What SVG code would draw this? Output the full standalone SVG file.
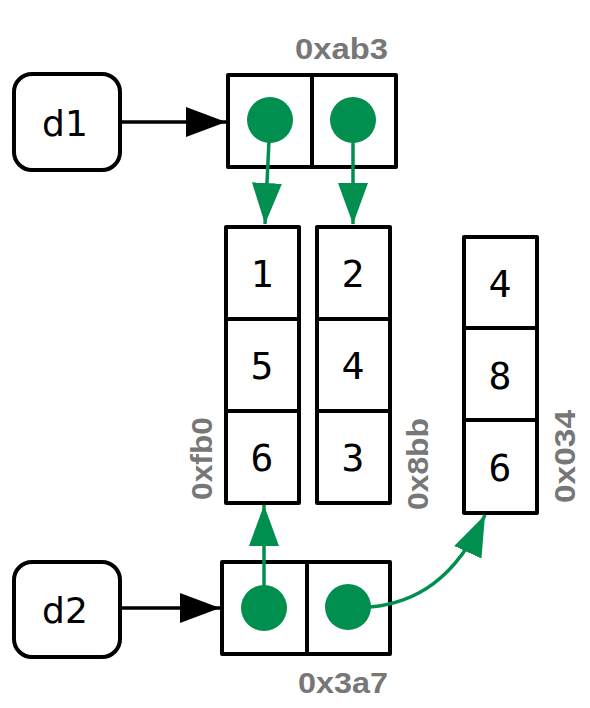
<svg xmlns="http://www.w3.org/2000/svg" width="590" height="708" viewBox="0 0 590 708">
<style>
.box{fill:#fff;stroke:#000;stroke-width:4;stroke-linejoin:round}
.div{stroke:#000;stroke-width:4}
.name{font-family:"DejaVu Sans","Noto Sans",sans-serif;font-size:36px;text-anchor:middle}
.num{font-family:"DejaVu Sans Mono",monospace;font-size:38px;text-anchor:middle}
.addr{font-family:"Liberation Sans",Arial,sans-serif;font-weight:bold;font-size:30px;fill:#777}
.dot{fill:#008f4f}
.ptr{fill:none;stroke:#008f4f;stroke-width:3.5}
.blk{fill:none;stroke:#000;stroke-width:3.5}
</style>
<defs>
<marker id="ab" viewBox="0 0 40 30" refX="40" refY="15" markerWidth="40" markerHeight="30" markerUnits="userSpaceOnUse" orient="auto"><path d="M0,0 L40,15 L0,30 z" fill="#000"/></marker>
<marker id="ag" viewBox="0 0 41 30" refX="41" refY="15" markerWidth="41" markerHeight="30" markerUnits="userSpaceOnUse" orient="auto"><path d="M0,0 L41,15 L0,30 z" fill="#008f4f"/></marker>
</defs>
<g id="d1"><rect class="box" x="14" y="74" width="106" height="96" rx="18"/><text class="name" x="65" y="136">d1</text></g>
<g id="d2"><rect class="box" x="14" y="562" width="106" height="95" rx="18"/><text class="name" x="65" y="623">d2</text></g>
<g id="n0xab3"><rect class="box" x="228" y="75" width="168" height="92"/><line class="div" x1="312" y1="75" x2="312" y2="167"/><text class="addr" x="295" y="59" textLength="93" lengthAdjust="spacingAndGlyphs">0xab3</text></g>
<g id="n0xfb0"><rect class="box" x="226" y="227" width="73" height="276"/><line class="div" x1="226" y1="319" x2="299" y2="319"/><line class="div" x1="226" y1="411" x2="299" y2="411"/><text class="num" x="262" y="287">1</text><text class="num" x="262" y="379">5</text><text class="num" x="262" y="471">6</text><text class="addr" transform="translate(212,500) rotate(-90)" textLength="83" lengthAdjust="spacingAndGlyphs">0xfb0</text></g>
<g id="n0x8bb"><rect class="box" x="317" y="227" width="73" height="276"/><line class="div" x1="317" y1="319" x2="390" y2="319"/><line class="div" x1="317" y1="411" x2="390" y2="411"/><text class="num" x="353" y="287">2</text><text class="num" x="353" y="379">4</text><text class="num" x="353" y="471">3</text><text class="addr" transform="translate(428,510) rotate(-90)" textLength="92" lengthAdjust="spacingAndGlyphs">0x8bb</text></g>
<g id="n0x034"><rect class="box" x="464" y="237" width="73" height="276"/><line class="div" x1="464" y1="328" x2="537" y2="328"/><line class="div" x1="464" y1="420" x2="537" y2="420"/><text class="num" x="500" y="297">4</text><text class="num" x="500" y="389">8</text><text class="num" x="500" y="481">6</text><text class="addr" transform="translate(575,503) rotate(-90)" textLength="93" lengthAdjust="spacingAndGlyphs">0x034</text></g>
<g id="n0x3a7"><rect class="box" x="222" y="562" width="168" height="92"/><line class="div" x1="307" y1="562" x2="307" y2="654"/><text class="addr" x="298" y="693" textLength="90" lengthAdjust="spacingAndGlyphs">0x3a7</text></g>
<g id="connectors">
<line class="blk" x1="120" y1="122" x2="226" y2="122" marker-end="url(#ab)"/>
<line class="blk" x1="120" y1="608" x2="220" y2="608" marker-end="url(#ab)"/>
<line class="ptr" x1="270" y1="120" x2="265" y2="224" marker-end="url(#ag)"/>
<line class="ptr" x1="353" y1="120" x2="353" y2="224" marker-end="url(#ag)"/>
<line class="ptr" x1="264" y1="608" x2="264" y2="505" marker-end="url(#ag)"/>
<path class="ptr" d="M370,607 C415,603 455,580 485,515" marker-end="url(#ag)"/>
<circle class="dot" cx="270" cy="120" r="23"/>
<circle class="dot" cx="353" cy="120" r="23"/>
<circle class="dot" cx="264" cy="608" r="23"/>
<circle class="dot" cx="348" cy="607" r="23"/>
</g>
</svg>
